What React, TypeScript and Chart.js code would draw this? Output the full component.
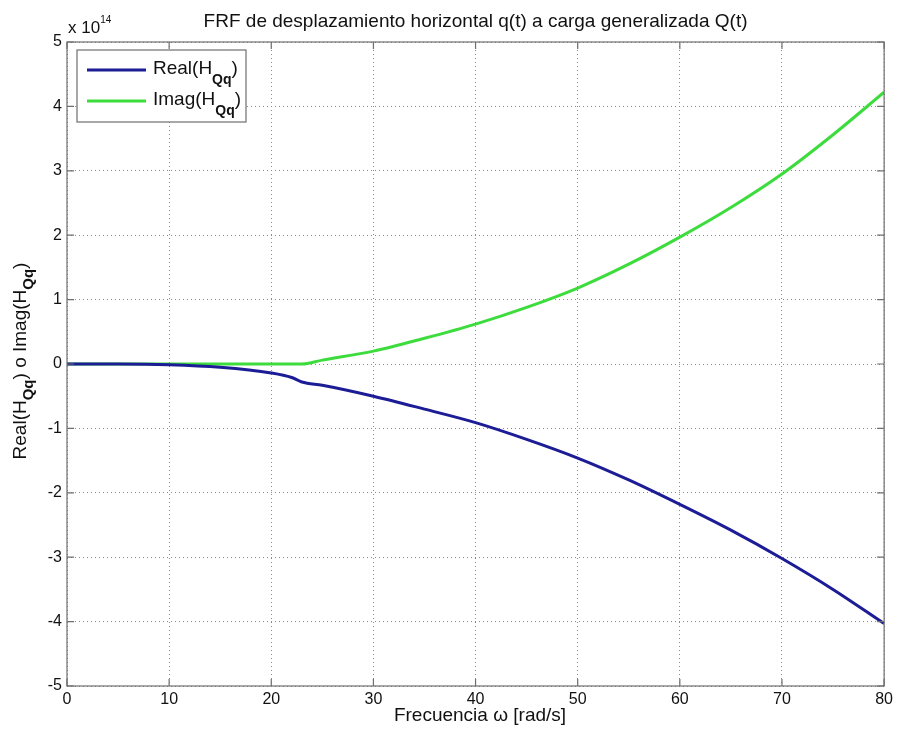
import React, { useEffect, useRef } from 'react';
import { Chart, registerables } from 'chart.js';

Chart.register(...registerables);

// ---- data (values in units of 10^14) ----
const frequency = [0, 5, 10, 15, 20, 22, 23, 25, 30, 35, 40, 45, 50, 55, 60, 65, 70, 75, 80];
const realH = [0, 0, -0.01, -0.05, -0.14, -0.21, -0.28, -0.33, -0.5, -0.7, -0.91, -1.17, -1.46, -1.8, -2.18, -2.58, -3.02, -3.5, -4.03];
const imagH = [0, 0, 0, 0, 0, 0, 0, 0.06, 0.2, 0.4, 0.62, 0.88, 1.18, 1.55, 1.97, 2.43, 2.95, 3.56, 4.22];
const exponentLabel = '14';
const xTickValues = [0, 10, 20, 30, 40, 50, 60, 70, 80];
const yTickValues = [-5, -4, -3, -2, -1, 0, 1, 2, 3, 4, 5];
const titleText = 'FRF de desplazamiento horizontal q(t) a carga generalizada Q(t)';
const xAxisLabel = 'Frecuencia \u03c9 [rad/s]';
const seriesNames = [
  { main: 'Real(H', sub: 'Qq', tail: ')' },
  { main: 'Imag(H', sub: 'Qq', tail: ')' },
];
const seriesColors = ['#1c1c96', '#3ddc3d'];

const FONT = '"Liberation Sans", Arial, Helvetica, sans-serif';

type Seg = { text: string; font: string; dy: number };

function drawSegments(ctx: CanvasRenderingContext2D, segs: Seg[], x: number, y: number, align: 'left' | 'center') {
  let total = 0;
  for (const s of segs) {
    ctx.font = s.font;
    total += ctx.measureText(s.text).width;
  }
  let cx = align === 'center' ? x - total / 2 : x;
  ctx.textAlign = 'left';
  ctx.textBaseline = 'alphabetic';
  for (const s of segs) {
    ctx.font = s.font;
    ctx.fillText(s.text, cx, y + s.dy);
    cx += ctx.measureText(s.text).width;
  }
}

const decorPlugin = {
  id: 'matlabDecor',
  afterDraw(chart: any) {
    const ctx: CanvasRenderingContext2D = chart.ctx;
    const { left, right, top, bottom } = chart.chartArea;
    const xs = chart.scales.x;
    const ys = chart.scales.y;
    ctx.save();

    // box
    ctx.strokeStyle = '#6e6e6e';
    ctx.lineWidth = 1.2;
    ctx.strokeRect(left, top, right - left, bottom - top);

    // inner ticks
    const tl = 7;
    ctx.beginPath();
    for (const v of xTickValues) {
      const px = xs.getPixelForValue(v);
      ctx.moveTo(px, bottom);
      ctx.lineTo(px, bottom - tl);
      ctx.moveTo(px, top);
      ctx.lineTo(px, top + tl);
    }
    for (const v of yTickValues) {
      const py = ys.getPixelForValue(v);
      ctx.moveTo(left, py);
      ctx.lineTo(left + tl, py);
      ctx.moveTo(right, py);
      ctx.lineTo(right - tl, py);
    }
    ctx.stroke();

    ctx.fillStyle = '#111';
    // title
    ctx.font = `19px ${FONT}`;
    ctx.textAlign = 'center';
    ctx.textBaseline = 'alphabetic';
    ctx.fillText(titleText, (left + right) / 2, 27);

    // exponent
    drawSegments(ctx, [
      { text: 'x 10', font: `17px ${FONT}`, dy: 0 },
      { text: exponentLabel, font: `10px ${FONT}`, dy: -10 },
    ], 68, 33, 'left');

    // x axis label
    ctx.font = `19px ${FONT}`;
    ctx.textAlign = 'center';
    ctx.fillText(xAxisLabel, 480, 721);

    // y axis label (rotated)
    ctx.save();
    ctx.translate(26, 361);
    ctx.rotate(-Math.PI / 2);
    const main = `19px ${FONT}`;
    const sub = `bold 15px ${FONT}`;
    drawSegments(ctx, [
      { text: 'Real(H', font: main, dy: 0 },
      { text: 'Qq', font: sub, dy: 7 },
      { text: ') o Imag(H', font: main, dy: 0 },
      { text: 'Qq', font: sub, dy: 7 },
      { text: ')', font: main, dy: 0 },
    ], 0, 0, 'center');
    ctx.restore();

    // legend
    const lx = 77, ly = 50, lw = 169, lh = 72;
    ctx.fillStyle = '#ffffff';
    ctx.fillRect(lx, ly, lw, lh);
    ctx.strokeStyle = '#6e6e6e';
    ctx.lineWidth = 1.2;
    ctx.strokeRect(lx, ly, lw, lh);
    const rows = [70, 101];
    seriesNames.forEach((n, i) => {
      ctx.strokeStyle = seriesColors[i];
      ctx.lineWidth = 3;
      ctx.beginPath();
      ctx.moveTo(87, rows[i]);
      ctx.lineTo(146, rows[i]);
      ctx.stroke();
      ctx.fillStyle = '#111';
      drawSegments(ctx, [
        { text: n.main, font: `19px ${FONT}`, dy: 0 },
        { text: n.sub, font: `bold 14px ${FONT}`, dy: 10 },
        { text: n.tail, font: `19px ${FONT}`, dy: 0 },
      ], 153, rows[i] + 4, 'left');
    });

    ctx.restore();
  },
};

export default function App() {
  const ref = useRef<HTMLCanvasElement | null>(null);
  useEffect(() => {
    if (!ref.current) return;
    const chart = new Chart(ref.current, {
      type: 'line',
      data: {
        datasets: [
          {
            label: 'Real(HQq)',
            data: frequency.map((f, i) => ({ x: f, y: realH[i] })),
            borderColor: seriesColors[0],
            borderWidth: 3,
            pointRadius: 0,
            cubicInterpolationMode: 'monotone',
            fill: false,
          },
          {
            label: 'Imag(HQq)',
            data: frequency.map((f, i) => ({ x: f, y: imagH[i] })),
            borderColor: seriesColors[1],
            borderWidth: 3,
            pointRadius: 0,
            cubicInterpolationMode: 'monotone',
            fill: false,
          },
        ],
      },
      options: {
        responsive: false,
        animation: false,
        layout: { padding: { top: 42, right: 12, left: 0, bottom: 0 } },
        plugins: { legend: { display: false }, title: { display: false }, tooltip: { enabled: false } },
        scales: {
          x: {
            type: 'linear',
            min: 0,
            max: 80,
            afterBuildTicks: (s: any) => { s.ticks = xTickValues.map((v) => ({ value: v })); },
            afterFit: (s: any) => { s.height = 49; },
            ticks: { color: '#111', font: { family: FONT, size: 16 }, padding: 4, maxRotation: 0, autoSkip: false },
            grid: { color: '#8a8a8a', lineWidth: 1, drawTicks: false },
            border: { display: false, dash: [1, 3] },
          },
          y: {
            type: 'linear',
            min: -5,
            max: 5,
            afterBuildTicks: (s: any) => { s.ticks = yTickValues.map((v) => ({ value: v })); },
            afterFit: (s: any) => { s.width = 67; },
            ticks: { color: '#111', font: { family: FONT, size: 16 }, padding: 5, autoSkip: false },
            grid: { color: '#8a8a8a', lineWidth: 1, drawTicks: false },
            border: { display: false, dash: [1, 3] },
          },
        },
      },
      plugins: [decorPlugin],
    } as any);
    return () => chart.destroy();
  }, []);
  return (
    <div style={{ position: 'absolute', left: 0, top: 0, width: 897, height: 735, background: '#fff' }}>
      <canvas ref={ref} width={897} height={735} />
    </div>
  );
}
